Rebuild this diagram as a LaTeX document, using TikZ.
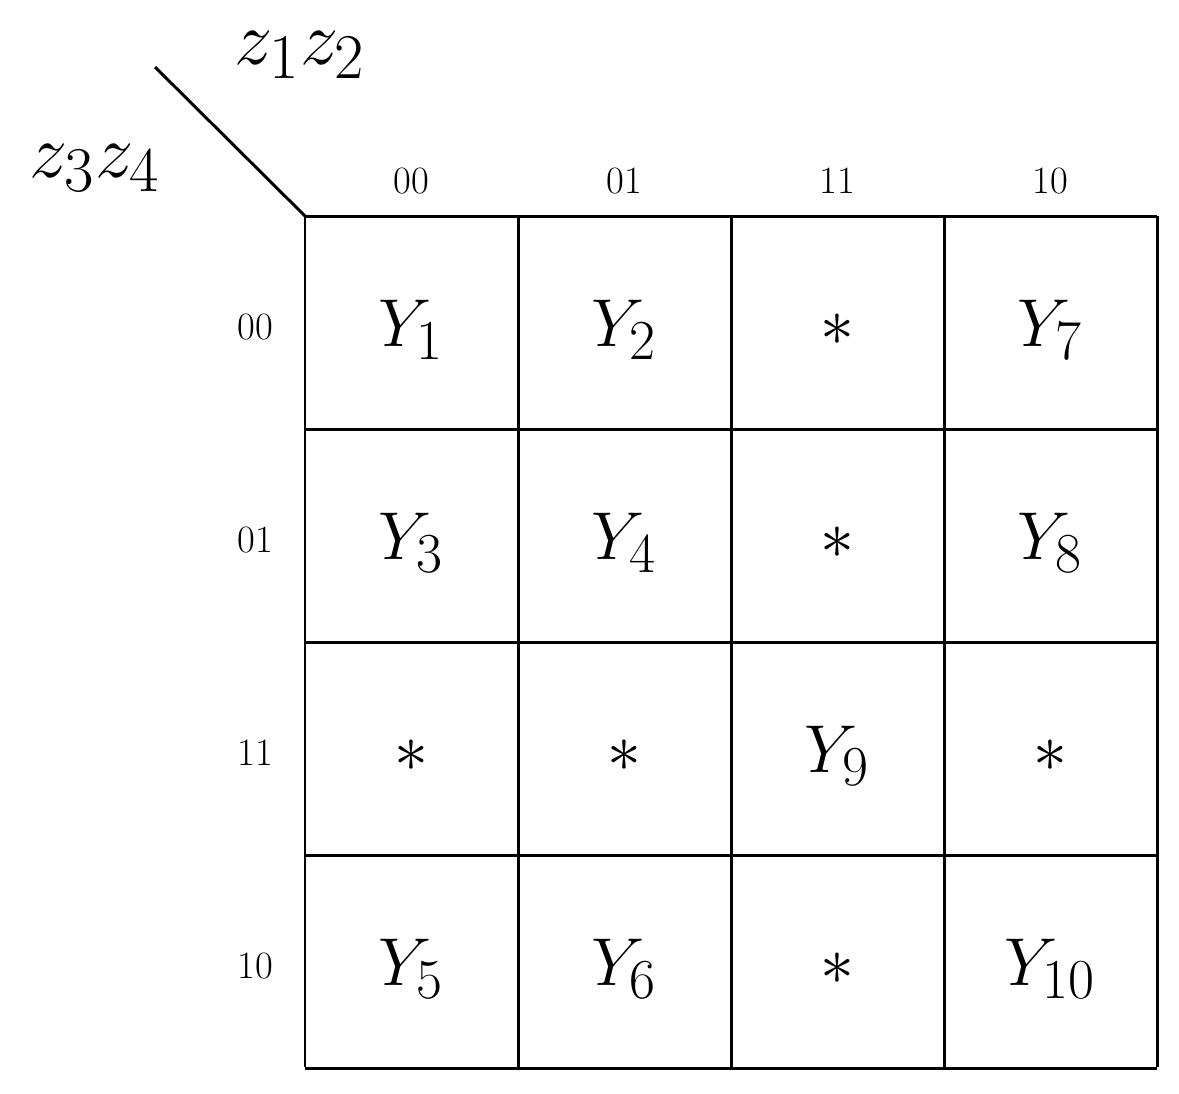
\documentclass[tikz,border=0pt]{standalone}
\begin{document}
\begin{tikzpicture}[x=0.02cm,y=-0.02cm,
  grid/.style={line width=1.7pt},
  cell/.style={font=\Huge,scale=1.55},
  lbl/.style={font=\fontsize{22}{26}\selectfont},
  var/.style={font=\Huge,scale=1.75}]
\useasboundingbox (0,0) rectangle (1179,1093);
\foreach \i in {0,...,4} {
  \draw[grid] (305+\i*213,216) -- (305+\i*213,1067);
  \draw[grid] (305,216+\i*213) -- (1157,216+\i*213);
}
\coordinate (c) at (305,216);
\coordinate (d) at (155,67);
\draw[grid] (d) -- (c);
\node[var] (z12) at (300,55) {$z_1z_2$};
\node[var] (z34) at (95,168) {$z_3z_4$};
\foreach \t [count=\k from 0] in {00,01,11,10} {
  \node[lbl] (h\k) at (411+\k*213,181) {\t};
  \node[lbl] (r\k) at (255,327+\k*213) {\t};
}
\foreach \t [count=\k from 0] in {$Y_1$,$Y_2$,$*$,$Y_7$,$Y_3$,$Y_4$,$*$,$Y_8$,$*$,$*$,$Y_9$,$*$,$Y_5$,$Y_6$,$*$,$Y_{10}$} {
  \pgfmathtruncatemacro{\cc}{mod(\k,4)}
  \pgfmathtruncatemacro{\rr}{div(\k,4)}
  \node[cell] (n\k) at (411+\cc*213,330+\rr*213) {\t};
}
\end{tikzpicture}
\end{document}
